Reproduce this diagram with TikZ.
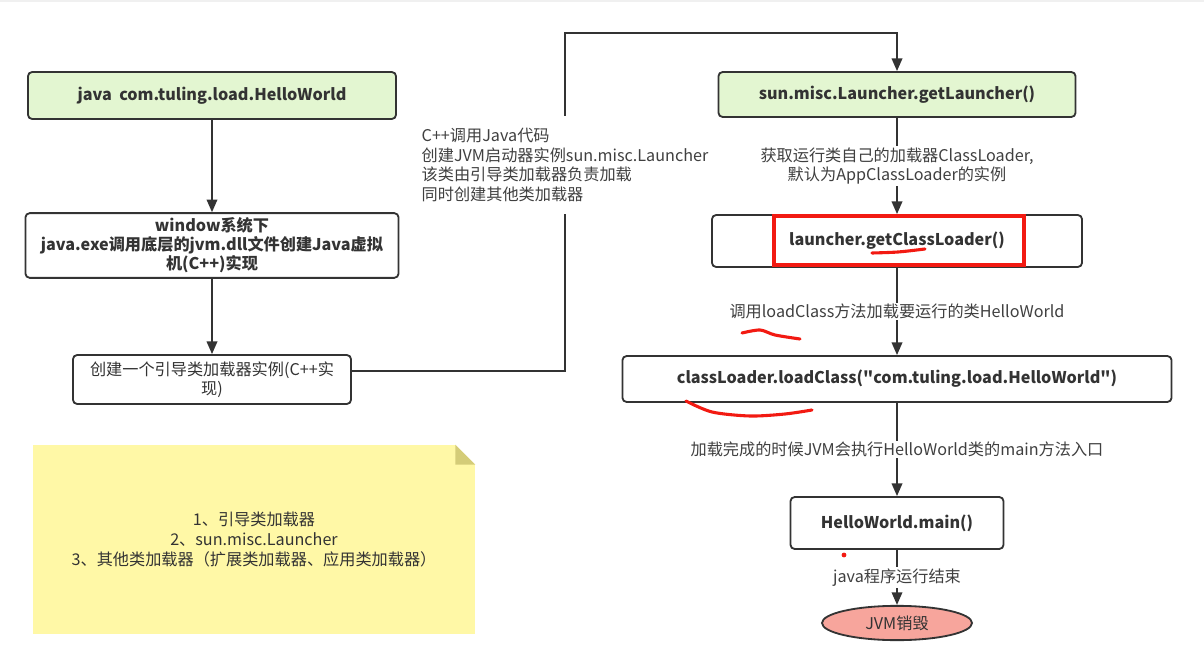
\documentclass[tikz,border=0pt]{standalone}
\usepackage{fontspec}
\setmainfont{Noto Sans CJK SC}
\usetikzlibrary{shapes,arrows.meta,positioning}

\definecolor{boxline}{HTML}{333333}
\definecolor{labeltext}{HTML}{404040}
\definecolor{startgreen}{HTML}{E3F6D1}
\definecolor{notefill}{HTML}{FFF8A6}
\definecolor{notefold}{HTML}{D4CC78}
\definecolor{endred}{HTML}{F7A59C}
\definecolor{markred}{HTML}{F21A12}

\begin{document}
\begin{tikzpicture}[x=0.025cm, y=-0.025cm,
    block/.style={rectangle, draw=boxline, line width=1.3pt, rounded corners=3pt, align=center, text=boxline, font=\fontsize{11.5pt}{13.5pt}\selectfont\bfseries},
    startblock/.style={block, fill=startgreen},
    plainblock/.style={block, font=\fontsize{11.5pt}{13.5pt}\selectfont},
    arrow/.style={-{Triangle[length=9pt,width=7.5pt]}, draw=boxline, line width=1.3pt},
    tag/.style={fill=white, text=labeltext, align=center, inner sep=1pt, font=\fontsize{11.5pt}{14pt}\selectfont},
    scribble/.style={draw=markred, line width=2.2pt, line cap=round}
]
\useasboundingbox (0,0) rectangle (1204,669);
\fill[black!6] (0,0) rectangle (1204,2);

% left column
\node[startblock, minimum width=9.2cm, minimum height=1.175cm] (java) at (212,95.5) {java\ \ com.tuling.load.HelloWorld};
\node[block, minimum width=9.325cm, minimum height=1.525cm] (jvmdll) at (212,245.5) {window系统下\\java.exe调用底层的jvm.dll文件创建Java虚拟\\机(C++)实现};
\node[plainblock, minimum width=6.95cm, minimum height=1.225cm] (boot) at (212,379.5) {创建一个引导类加载器实例(C++实\\现)};

% right column
\node[startblock, minimum width=8.925cm, minimum height=1.125cm] (getlauncher) at (897,94.5) {sun.misc.Launcher.getLauncher()};
\node[block, minimum width=9.25cm, minimum height=1.3cm] (getcl) at (897,241) {launcher.getClassLoader()};
\node[draw=markred, line width=3pt, minimum width=6.25cm, minimum height=1.225cm] (mark) at (899,240.5) {};
\node[block, minimum width=13.725cm, minimum height=1.15cm] (loadclass) at (897,379) {classLoader.loadClass(\textquotedbl com.tuling.load.HelloWorld\textquotedbl)};
\node[block, minimum width=5.325cm, minimum height=1.3cm] (hwmain) at (897,523) {HelloWorld.main()};
\node[ellipse, draw=boxline, line width=1.3pt, fill=endred, text=boxline, minimum width=3.75cm, minimum height=0.85cm, font=\fontsize{11.5pt}{13.5pt}\selectfont] (destroy) at (897,623) {JVM销毁};

% note
\node[fill=notefill, minimum width=11.05cm, minimum height=4.725cm, align=center, text=boxline, font=\fontsize{11.5pt}{14pt}\selectfont] (note) at (254,539.5) {1、引导类加载器\\2、sun.misc.Launcher\\3、其他类加载器（扩展类加载器、应用类加载器）};
\fill[white] ([xshift=-0.5cm]note.north east) -- (note.north east) -- ([yshift=-0.5cm]note.north east) -- cycle;
\fill[notefold] ([xshift=-0.5cm]note.north east) -- ([yshift=-0.5cm]note.north east) -- ([xshift=-0.5cm,yshift=-0.5cm]note.north east) -- cycle;

\draw[arrow] (java) -- (jvmdll);
\draw[arrow] (jvmdll) -- (boot);

\coordinate (bend) at (565,33);
\draw[arrow] ([yshift=0.21cm]boot.east) -| (bend) -| (getlauncher.north);
\node[tag, align=left, inner ysep=0.3cm] (launchnote) at (565,165) {C++调用Java代码\\创建JVM启动器实例sun.misc.Launcher\\该类由引导类加载器负责加载\\同时创建其他类加载器};

\draw[arrow] (getlauncher) -- (getcl) node[midway, tag] {获取运行类自己的加载器ClassLoader,\\默认为AppClassLoader的实例};
\draw[arrow] (getcl) -- (loadclass) node[midway, tag] {调用loadClass方法加载要运行的类HelloWorld};
\draw[arrow] (loadclass) -- (hwmain) node[midway, tag] {加载完成的时候JVM会执行HelloWorld类的main方法入口};
\draw[arrow] (hwmain) -- (destroy) node[midway, tag] {java程序运行结束};

% red marks
\draw[scribble] plot[smooth] coordinates {(872,253) (898,252) (925,249)};
\draw[scribble] plot[smooth] coordinates {(742,333) (760,330) (775,335) (800,339)};
\draw[scribble] plot[smooth] coordinates {(686,401) (712,412) (750,416) (785,414) (812,410)};
\fill[markred] (844,555) circle[radius=0.06cm];

\end{tikzpicture}
\end{document}
